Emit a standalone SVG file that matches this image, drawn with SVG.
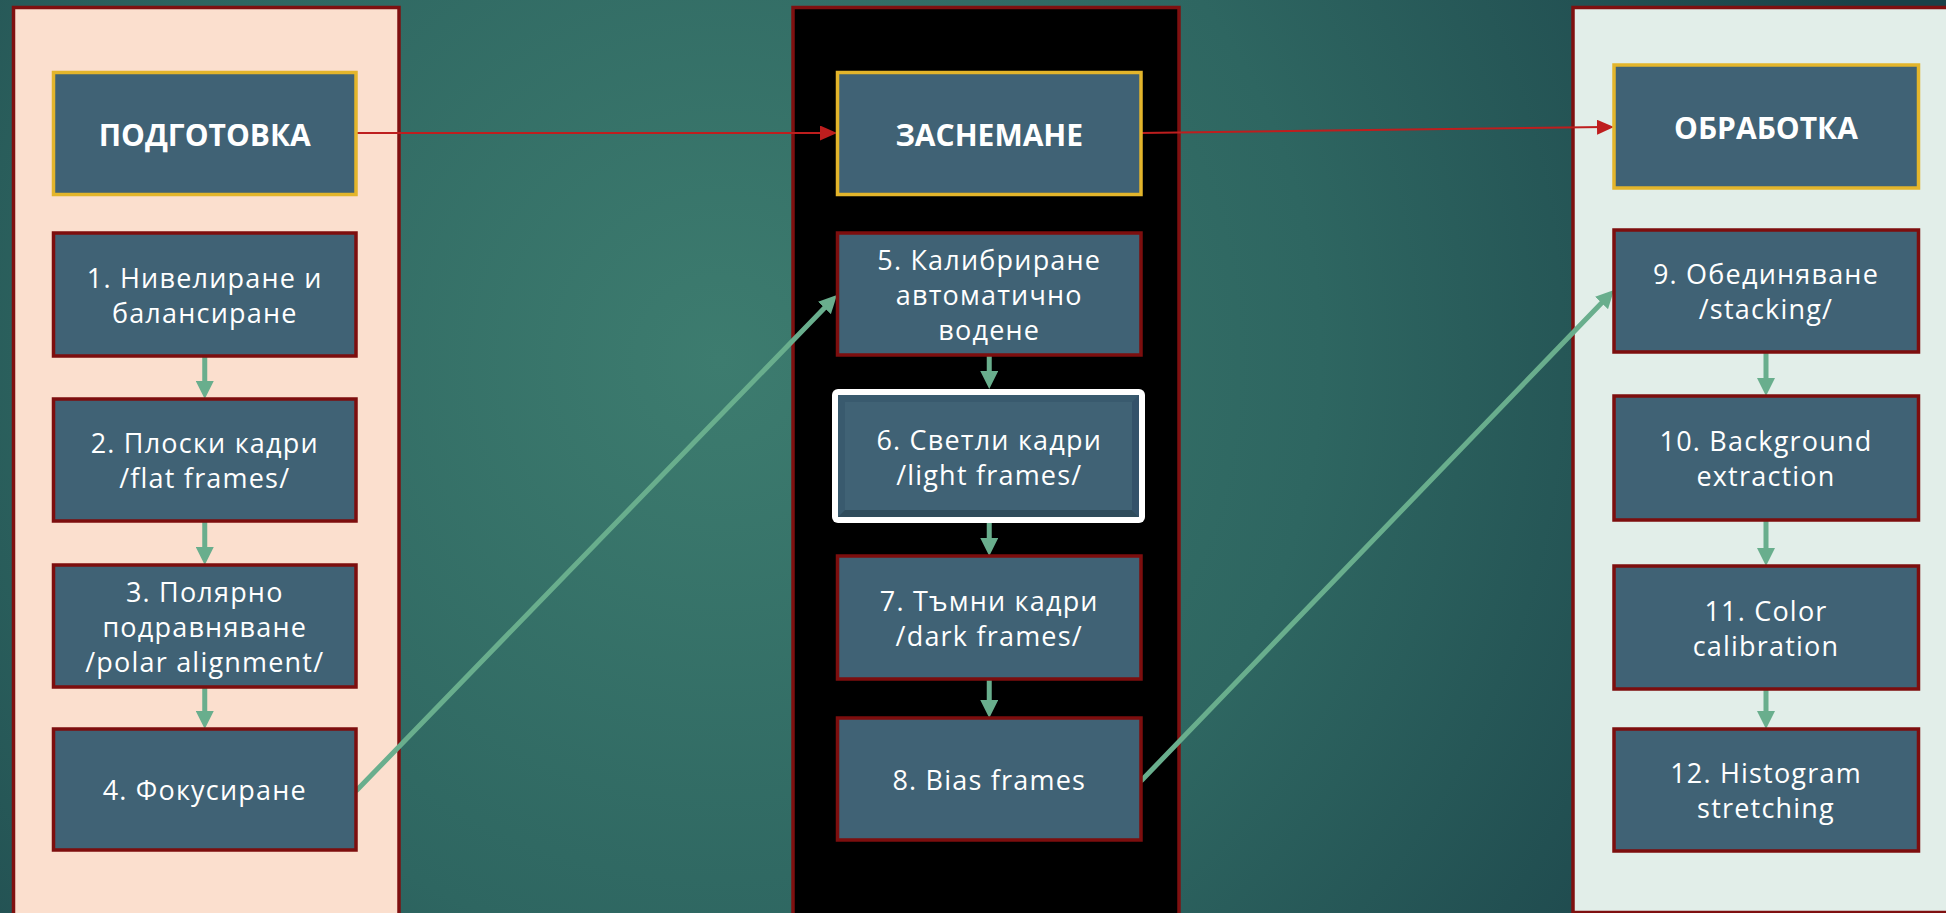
<svg xmlns="http://www.w3.org/2000/svg" width="1946" height="913" viewBox="0 0 1946 913">
<style>
.panel{stroke:#7F1010;stroke-width:3.5}
.node{fill:#406275;stroke:#7D0E0E;stroke-width:3.5}
.title{fill:#406275;stroke:#E3B52B;stroke-width:3.5}
.t{font-family:"Open Sans","Noto Sans","DejaVu Sans",sans-serif;font-size:27px;letter-spacing:1.2px;fill:#FFFFFF;text-anchor:middle}
.tb{font-family:"Open Sans","Noto Sans","DejaVu Sans",sans-serif;font-size:30px;font-weight:bold;fill:#FFFFFF;text-anchor:middle}
.g{fill:none;stroke:#69AE8D;stroke-width:5;stroke-linecap:round}
.r{fill:none;stroke:#BE1E1E;stroke-width:2}
</style>
<defs>
<radialGradient id="bg" gradientUnits="userSpaceOnUse" cx="720" cy="360" r="1200">
<stop offset="0" stop-color="#3D7C6F"/>
<stop offset="0.5" stop-color="#2E6661"/>
<stop offset="1" stop-color="#1A4148"/>
</radialGradient>
<marker id="ga" markerUnits="userSpaceOnUse" markerWidth="18" markerHeight="18" refX="8" refY="9" orient="auto">
<path d="M0,0 L18,9 L0,18 z" fill="#69AE8D"/>
</marker>
<marker id="ra" markerUnits="userSpaceOnUse" markerWidth="17" markerHeight="15" refX="7" refY="7.5" orient="auto">
<path d="M0,0 L17,7.5 L0,15 z" fill="#BE1E1E"/>
</marker>
</defs>
<rect x="0" y="0" width="1946" height="913" fill="url(#bg)"/>
<g id="panels">
<rect id="panel-prep" class="panel" x="13.5" y="7.5" width="385.5" height="930" fill="#FBDFCE"/>
<rect id="panel-capture" class="panel" x="793" y="7.5" width="386" height="930" fill="#000000"/>
<rect id="panel-process" class="panel" x="1573" y="7.5" width="400" height="905" fill="#E2EEE9"/>
</g>
<g id="connectors">
<path class="r" d="M356,133 L827,133" marker-end="url(#ra)"/>
<path class="r" d="M1141,133 L1604,127.1" marker-end="url(#ra)"/>
<path class="g" d="M204.75,357 L204.75,389" marker-end="url(#ga)"/>
<path class="g" d="M204.75,522 L204.75,555" marker-end="url(#ga)"/>
<path class="g" d="M204.75,688 L204.75,719" marker-end="url(#ga)"/>
<path class="g" d="M989.25,356 L989.25,379" marker-end="url(#ga)"/>
<path class="g" d="M989.25,523 L989.25,546" marker-end="url(#ga)"/>
<path class="g" d="M989.25,680 L989.25,708" marker-end="url(#ga)"/>
<path class="g" d="M1766,353 L1766,386" marker-end="url(#ga)"/>
<path class="g" d="M1766,521 L1766,556" marker-end="url(#ga)"/>
<path class="g" d="M1766,690 L1766,719" marker-end="url(#ga)"/>
<path class="g" d="M357,790 L830,302.2" marker-end="url(#ga)"/>
<path class="g" d="M1142,780 L1607.1,297.2" marker-end="url(#ga)"/>
</g>
<g id="n-prep-title"><rect class="title" x="53.5" y="72.5" width="302.5" height="122"/><text class="tb" x="204.75" y="146">ПОДГОТОВКА</text></g>
<g id="n1"><rect class="node" x="53.5" y="233" width="302.5" height="123"/><text class="t" x="204.75" y="287.5">1. Нивелиране и</text><text class="t" x="204.75" y="322.5">балансиране</text></g>
<g id="n2"><rect class="node" x="53.5" y="399" width="302.5" height="122"/><text class="t" x="204.75" y="452.5">2. Плоски кадри</text><text class="t" x="204.75" y="487.5">/flat frames/</text></g>
<g id="n3"><rect class="node" x="53.5" y="565" width="302.5" height="122"/><text class="t" x="204.75" y="601.5">3. Полярно</text><text class="t" x="204.75" y="636.5">подравняване</text><text class="t" x="204.75" y="671.5">/polar alignment/</text></g>
<g id="n4"><rect class="node" x="53.5" y="729" width="302.5" height="121"/><text class="t" x="204.75" y="800">4. Фокусиране</text></g>
<g id="n-cap-title"><rect class="title" x="837.5" y="72.5" width="303.5" height="122"/><text class="tb" x="989.25" y="146">ЗАСНЕМАНЕ</text></g>
<g id="n5"><rect class="node" x="837.5" y="233" width="303.5" height="122"/><text class="t" x="989.25" y="269.5">5. Калибриране</text><text class="t" x="989.25" y="304.5">автоматично</text><text class="t" x="989.25" y="339.5">водене</text></g>
<g id="n6">
<rect x="832" y="389" width="313" height="134" rx="6" fill="#FFFFFF"/>
<rect x="838" y="395" width="301" height="122" fill="#395A6E"/>
<path d="M838,517 L845,510 L1132,510 L1139,517 z" fill="#2F4C5C"/>
<path d="M1139,395 L1132,402 L1132,510 L1139,517 z" fill="#34526A"/>
<rect x="845" y="402" width="287" height="108" fill="#406275"/>
<text class="t" x="989.25" y="449.5">6. Светли кадри</text><text class="t" x="989.25" y="484.5">/light frames/</text></g>
<g id="n7"><rect class="node" x="837.5" y="556" width="303.5" height="123"/><text class="t" x="989.25" y="610.5">7. Тъмни кадри</text><text class="t" x="989.25" y="645.5">/dark frames/</text></g>
<g id="n8"><rect class="node" x="837.5" y="718" width="303.5" height="122"/><text class="t" x="989.25" y="789.5">8. Bias frames</text></g>
<g id="n-proc-title"><rect class="title" x="1614" y="65" width="304.5" height="123"/><text class="tb" x="1766" y="138.5">ОБРАБОТКА</text></g>
<g id="n9"><rect class="node" x="1614" y="230" width="304.5" height="122"/><text class="t" x="1766" y="284">9. Обединяване</text><text class="t" x="1766" y="319">/stacking/</text></g>
<g id="n10"><rect class="node" x="1614" y="396" width="304.5" height="124"/><text class="t" x="1766" y="451">10. Background</text><text class="t" x="1766" y="486">extraction</text></g>
<g id="n11"><rect class="node" x="1614" y="566" width="304.5" height="123"/><text class="t" x="1766" y="620.5">11. Color</text><text class="t" x="1766" y="655.5">calibration</text></g>
<g id="n12"><rect class="node" x="1614" y="729" width="304.5" height="122"/><text class="t" x="1766" y="783">12. Histogram</text><text class="t" x="1766" y="818">stretching</text></g>
</svg>
